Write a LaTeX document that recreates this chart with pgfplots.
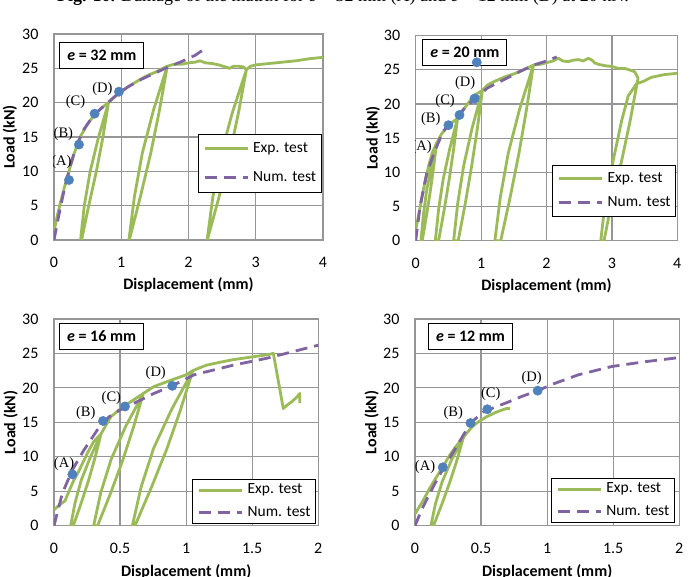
\documentclass[border=0pt]{standalone}
\usepackage{fontspec}
\setmainfont{Carlito}
\newfontfamily\serifA{Liberation Serif}
\usepackage{pgfplots}
\pgfplotsset{compat=1.18}

\definecolor{expg}{RGB}{155,187,89}
\definecolor{nump}{RGB}{128,100,162}
\definecolor{mblue}{RGB}{79,129,189}
\definecolor{gridg}{RGB}{150,150,150}

\tikzset{
  lbl/.style={font=\serifA\fontsize{14.5}{16}\selectfont, inner sep=0pt},
  ebox/.style={draw=black, line width=0.9pt, fill=white, inner xsep=7.5pt, inner ysep=6pt,
      text height=12pt, text depth=2pt, font=\bfseries\fontsize{16}{19}\selectfont},
}
\pgfplotsset{
  legend image code/.code={\draw[#1, line width=2.8pt] (0pt,0pt) -- (43pt,0pt);},
  myax/.style={
    scale only axis,
    anchor=south west,
    ymin=0, ymax=30, ytick={0,5,...,30},
    grid=major,
    major grid style={gridg, line width=1.2pt},
    axis line style={gridg, line width=1.2pt},
    major tick length=0pt,
    tick label style={font=\fontsize{16}{19}\selectfont},
    /pgf/number format/assume math mode=true,
    xticklabel style={yshift=-14pt},
    yticklabel style={xshift=-12pt},
    ylabel={Load (kN)},
    xlabel={Displacement (mm)},
    label style={font=\bfseries\fontsize{16}{19}\selectfont},
    every axis y label/.style={at={(axis description cs:-0.164,0.5)}, rotate=90, anchor=center,
      font=\bfseries\fontsize{16}{19}\selectfont},
    legend cell align=left,
    legend style={draw=black, line width=0.9pt, anchor=north west,
      font=\fontsize{15.5}{18}\selectfont, inner xsep=5pt, column sep=4pt,
      nodes={inner sep=0pt, text height=11pt, text depth=4pt}},
  },
  expst/.style={expg, line width=2.8pt, line join=round},
  numst/.style={nump, line width=2.8pt, dash pattern=on 12pt off 7pt},
  mk/.style={only marks, mark=*, mark size=4.7pt, mark options={draw=mblue, fill=mblue}},
}

\begin{document}
\begin{tikzpicture}

% ---------- e = 32 mm ----------
\begin{axis}[myax, at={(54pt,337pt)}, width=269pt, height=206pt,
  xmin=0, xmax=4, xtick={0,1,2,3,4},
  xlabel style={at={(axis description cs:0.5,-0.217)}, anchor=center},
  legend style={at={(0.535,0.515)}, row sep=14pt, inner ysep=7pt}]
\addplot[expst] coordinates {
(0,1.0)(0.02,2.2)(0.05,3.6)(0.1,5.6)(0.15,7.5)(0.2,9.2)(0.25,11.0)(0.3,12.6)(0.35,14.0)(0.4,15.2)(0.5,16.9)(0.6,18.2)(0.7,19.2)(0.81,20.0)
(0.726,14.9)(0.629,9.95)(0.516,4.98)(0.41,0)(0.395,0)(0.45,4.98)(0.537,9.95)(0.66,14.9)(0.81,20.0)
(0.9,20.8)(1.0,21.6)(1.1,22.3)(1.2,22.9)(1.3,23.5)(1.4,24.0)(1.5,24.4)(1.6,24.9)(1.684,25.3)
(1.570,18.98)(1.439,12.65)(1.285,6.33)(1.12,0)(1.114,0)(1.196,6.33)(1.313,12.65)(1.481,18.98)(1.684,25.3)
(1.75,25.5)(1.8,25.6)(1.9,25.6)(2.0,25.8)(2.1,25.9)(2.17,26.1)(2.25,25.8)(2.35,25.7)(2.45,25.5)(2.55,25.2)(2.61,25.0)(2.67,25.3)(2.75,25.3)(2.82,25.2)(2.861,24.8)
(2.744,18.57)(2.610,12.38)(2.452,6.19)(2.28,0)(2.277,0)(2.361,6.19)(2.481,12.38)(2.653,18.57)(2.861,24.8)
(2.92,25.3)(3.0,25.5)(3.2,25.7)(3.4,25.9)(3.6,26.1)(3.8,26.4)(4.0,26.6)
};
\addlegendentry{Exp. test}
\addplot[numst] coordinates {
(0,0)(0.05,2.5)(0.1,5)(0.15,7.2)(0.2,9.2)(0.25,11)(0.3,12.7)(0.36,14.3)(0.45,16.2)(0.55,17.6)(0.65,18.7)(0.8,20.0)(0.95,21.3)(1.1,22.3)(1.3,23.4)(1.5,24.3)(1.7,25.2)(1.9,26.0)(2.1,26.9)(2.25,27.9)
};
\addlegendentry{Num. test}
\addplot[mk, forget plot] coordinates {(0.223,8.74)(0.371,13.9)(0.604,18.4)(0.966,21.6)};
\node[lbl] at (axis cs:0.11,11.4) {(A)};
\node[lbl] at (axis cs:0.14,15.4) {(B)};
\node[lbl] at (axis cs:0.32,20.1) {(C)};
\node[lbl] at (axis cs:0.72,22.0) {(D)};
\node[ebox] at (rel axis cs:0.178,0.898) {\textit{e} = 32 mm};
\end{axis}

% ---------- e = 20 mm ----------
\begin{axis}[myax, at={(415.7pt,336.3pt)}, width=261.6pt, height=205pt,
  xmin=0, xmax=4, xtick={0,1,2,3,4},
  xlabel style={at={(axis description cs:0.5,-0.22)}, anchor=center},
  legend style={at={(0.5225,0.3705)}, row sep=9pt, inner ysep=6pt}]
\addplot[mk, forget plot] coordinates {(0.5,16.9)(0.67,18.4)(0.9,20.8)};
\addplot[expst] coordinates {
(0,1.6)(0.05,4.0)(0.1,6.6)(0.15,9.0)(0.2,11.0)(0.25,12.8)(0.32,14.3)
(0.273,10.7)(0.222,7.15)(0.163,3.58)(0.10,0)(0.08,0)(0.115,3.58)(0.164,7.15)(0.235,10.7)(0.32,14.3)
(0.4,15.7)(0.5,16.8)(0.57,17.4)(0.64,17.9)
(0.58,13.4)(0.512,8.95)(0.435,4.48)(0.35,0)(0.30,0)(0.349,4.48)(0.419,8.95)(0.519,13.4)(0.64,17.9)
(0.7,18.8)(0.8,20.1)(0.9,21.3)(1.02,22.0)
(0.944,16.5)(0.857,11.0)(0.759,5.5)(0.65,0)(0.58,0)(0.643,5.5)(0.734,11.0)(0.863,16.5)(1.02,22.0)
(1.1,22.8)(1.2,23.3)(1.37,24.0)(1.5,24.4)(1.65,25.0)(1.8,25.7)
(1.696,19.3)(1.58,12.85)(1.446,6.43)(1.30,0)(1.21,0)(1.295,6.43)(1.416,12.85)(1.590,19.3)(1.8,25.7)
(1.9,25.8)(1.98,26.0)(2.1,26.3)(2.18,26.7)(2.25,26.3)(2.33,26.2)(2.4,26.4)(2.49,26.5)(2.56,26.3)(2.64,26.7)(2.7,26.4)(2.74,26.0)(2.8,25.8)(2.9,25.6)(3.0,25.5)(3.1,25.2)(3.2,25.2)(3.3,24.9)(3.35,24.7)(3.40,23.8)
(3.28,17.6)(3.15,11.75)(3.00,5.9)(2.88,0)(2.83,0)(2.90,5.9)(3.02,11.75)(3.15,17.6)(3.25,21.2)(3.38,23.0)
(3.45,23.2)(3.5,23.4)(3.6,23.9)(3.7,24.1)(3.8,24.3)(3.9,24.4)(4.0,24.5)
};
\addlegendentry{Exp. test}
\addplot[numst] coordinates {
(0,0)(0.066,5)(0.17,9.9)(0.3,13.3)(0.42,16.0)(0.5,16.9)(0.63,18.1)(0.75,19.4)(0.88,20.6)(1.0,21.5)(1.09,22.3)(1.25,23.1)(1.44,24.0)(1.6,24.8)(1.8,25.7)(2.0,26.3)(2.156,26.9)
};
\addlegendentry{Num. test}
\node[ebox] at (rel axis cs:0.188,0.918) {\textit{e} = 20 mm};
\addplot[mk, forget plot] coordinates {(0.934,26.1)};
\node[lbl] at (axis cs:0.09,13.7) {(A)};
\node[lbl] at (axis cs:0.23,17.8) {(B)};
\node[lbl] at (axis cs:0.45,20.4) {(C)};
\node[lbl] at (axis cs:0.755,23.1) {(D)};
\end{axis}

% ---------- e = 16 mm ----------
\begin{axis}[myax, at={(54pt,51.3pt)}, width=264.3pt, height=206.7pt,
  xmin=0, xmax=2, xtick={0,0.5,1,1.5,2},
  xlabel style={at={(axis description cs:0.5,-0.222)}, anchor=center},
  legend style={at={(0.5235,0.2275)}, row sep=7.5pt, inner ysep=3.5pt}]
\addplot[expst] coordinates {
(0,2.3)(0.04,3.0)(0.083,3.6)(0.12,5.3)(0.15,6.6)(0.19,8.0)(0.227,9.5)(0.26,10.8)(0.30,12.2)(0.355,13.3)
(0.311,9.9)(0.262,6.6)(0.206,3.3)(0.146,0)(0.126,0)(0.159,3.3)(0.206,6.6)(0.274,9.9)(0.355,13.3)
(0.40,14.8)(0.43,15.8)(0.504,17.0)(0.605,18.3)(0.676,19.2)
(0.603,14.4)(0.522,9.6)(0.43,4.8)(0.33,0)(0.30,0)(0.354,4.8)(0.432,9.6)(0.542,14.4)(0.676,19.2)
(0.757,20.2)(0.883,21.1)(1.0,21.9)(1.05,22.5)
(0.957,16.8)(0.855,11.2)(0.738,5.6)(0.613,0)(0.593,0)(0.659,5.6)(0.753,11.2)(0.888,16.8)(1.05,22.5)
(1.10,22.9)(1.155,23.3)(1.25,23.7)(1.357,24.1)(1.5,24.5)(1.61,24.8)(1.66,25.0)(1.735,17.0)(1.77,17.6)(1.80,18.0)(1.84,18.7)(1.86,19.2)(1.86,17.8)
};
\addlegendentry{Exp. test}
\addplot[numst] coordinates {
(0,0)(0.063,4.7)(0.139,8.1)(0.227,11)(0.328,13.9)(0.416,15.8)(0.5,16.8)(0.63,18.0)(0.757,19.2)(0.895,20.3)(1.06,21.9)(1.357,23.3)(1.61,24.3)(2.0,26.2)
};
\addlegendentry{Num. test}
\addplot[mk, forget plot] coordinates {(0.139,7.45)(0.371,15.2)(0.537,17.3)(0.895,20.3)};
\node[lbl] at (axis cs:0.076,8.95) {(A)};
\node[lbl] at (axis cs:0.24,16.3) {(B)};
\node[lbl] at (axis cs:0.434,18.6) {(C)};
\node[lbl] at (axis cs:0.77,22.2) {(D)};
\node[ebox] at (rel axis cs:0.18,0.915) {\textit{e} = 16 mm};
\end{axis}

% ---------- e = 12 mm ----------
\begin{axis}[myax, at={(415pt,51.3pt)}, width=264.3pt, height=206.7pt,
  xmin=0, xmax=2, xtick={0,0.5,1,1.5,2},
  xlabel style={at={(axis description cs:0.5,-0.222)}, anchor=center},
  legend style={at={(0.515,0.231)}, row sep=7.5pt, inner ysep=3.5pt}]
\addplot[expst] coordinates {
(0,1.7)(0.063,3.7)(0.11,5.4)(0.164,7.1)(0.215,8.7)(0.265,10.3)(0.31,11.5)(0.366,12.8)
(0.319,9.6)(0.265,6.4)(0.205,3.2)(0.14,0)(0.12,0)(0.155,3.2)(0.206,6.4)(0.278,9.6)(0.366,12.8)
(0.39,13.4)(0.43,14.3)(0.467,14.9)(0.54,15.8)(0.618,16.5)(0.69,17.0)(0.719,17.0)
};
\addlegendentry{Exp. test}
\addplot[numst] coordinates {
(0,0)(0.05,2.3)(0.139,5.7)(0.214,8.3)(0.315,11.5)(0.42,14.9)(0.517,16.5)(0.618,17.3)(0.7,17.9)(0.8,18.7)(0.928,19.6)(1.05,20.6)(1.236,21.9)(1.488,23.1)(1.74,23.8)(2.0,24.4)
};
\addlegendentry{Num. test}
\addplot[mk, forget plot] coordinates {(0.21,8.47)(0.42,14.9)(0.547,16.9)(0.928,19.6)};
\node[lbl] at (axis cs:0.076,8.5) {(A)};
\node[lbl] at (axis cs:0.29,16.3) {(B)};
\node[lbl] at (axis cs:0.573,19.1) {(C)};
\node[lbl] at (axis cs:0.883,21.5) {(D)};
\node[ebox] at (rel axis cs:0.21,0.915) {\textit{e} = 12 mm};
\end{axis}

\node[anchor=base, font=\serifA\fontsize{18}{20}\selectfont] at (343pt,575pt)
  {\textbf{Fig. 10.} Damage of the matrix for \textit{e} = 32 mm (A) and \textit{e} = 12 mm (D) at 20 kN.};

\pgfresetboundingbox
\useasboundingbox (0pt,0pt) rectangle (689pt,577pt);
\end{tikzpicture}
\end{document}
